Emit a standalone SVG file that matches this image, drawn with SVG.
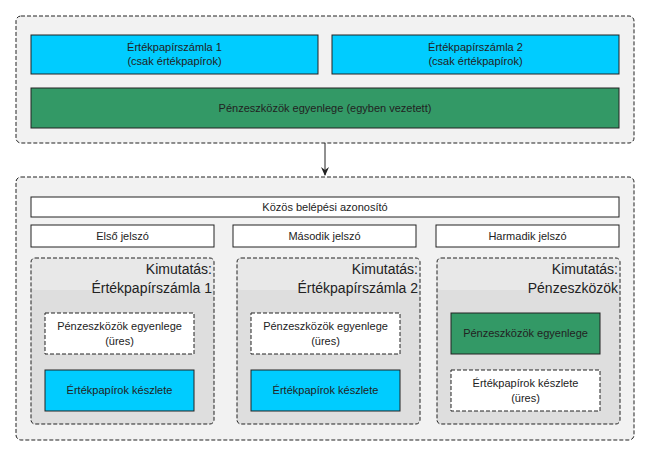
<svg xmlns="http://www.w3.org/2000/svg" width="650" height="457" viewBox="0 0 650 457">
<style>
text{font-family:"Liberation Sans",Arial,sans-serif;font-size:11px;fill:#222;text-anchor:middle}
.c{fill:#f2f2f2;stroke:#222;stroke-dasharray:4 2}
.b{fill:#00ccff;stroke:#222}
.g{fill:#339966;stroke:#222}
.w{fill:#fff;stroke:#222}
.wd{fill:#fff;stroke:#222;stroke-dasharray:4 2}
.p{fill:#dedede;stroke:none}
.ph{fill:#e8e8e8;stroke:none}
.po{fill:none;stroke:#222;stroke-dasharray:4 2}
.t{font-size:14px;text-anchor:end}
</style>
<defs><marker id="a" markerWidth="10" markerHeight="10" refX="8" refY="5" orient="auto" markerUnits="userSpaceOnUse"><path d="M0,1 L9,5 L0,9 L3,5 Z" fill="#222"/></marker></defs>
<g id="top"><rect class="c" x="16" y="16" width="618" height="127" rx="5"/></g>
<g id="acc1"><rect class="b" x="31" y="35" width="287" height="39"/><text x="174.5" y="51">Értékpapírszámla 1</text><text x="174.5" y="65">(csak értékpapírok)</text></g>
<g id="acc2"><rect class="b" x="332" y="35" width="287" height="39"/><text x="475.5" y="51">Értékpapírszámla 2</text><text x="475.5" y="65">(csak értékpapírok)</text></g>
<g id="cash"><rect class="g" x="31" y="88" width="588" height="40"/><text x="325" y="112">Pénzeszközök egyenlege (egyben vezetett)</text></g>
<g id="connectors"><line x1="325" y1="143" x2="325" y2="175" stroke="#222" marker-end="url(#a)"/></g>
<g id="bottom"><rect class="c" x="16" y="177" width="618" height="263" rx="5"/></g>
<g id="login"><rect class="w" x="31" y="197" width="588" height="20"/><text x="325" y="211">Közös belépési azonosító</text></g>
<g id="pw1"><rect class="w" x="31" y="225" width="183" height="22"/><text x="122.5" y="240">Első jelszó</text></g>
<g id="pw2"><rect class="w" x="233" y="225" width="183" height="22"/><text x="324.5" y="240">Második jelszó</text></g>
<g id="pw3"><rect class="w" x="436" y="225" width="183" height="22"/><text x="527.5" y="240">Harmadik jelszó</text></g>
<g id="panel1"><rect class="p" x="31" y="258" width="183" height="166" rx="4"/><rect class="ph" x="31" y="258" width="183" height="32" rx="4"/><rect class="po" x="31" y="258" width="183" height="166" rx="4"/><text class="t" x="212" y="274">Kimutatás:</text><text class="t" x="212" y="293">Értékpapírszámla 1</text></g>
<g id="p1a"><rect class="wd" x="45" y="313" width="149" height="41"/><text x="119.5" y="330">Pénzeszközök egyenlege</text><text x="119.5" y="345">(üres)</text></g>
<g id="p1b"><rect class="b" x="45" y="370" width="149" height="41"/><text x="119.5" y="394">Értékpapírok készlete</text></g>
<g id="panel2"><rect class="p" x="237" y="258" width="183" height="166" rx="4"/><rect class="ph" x="237" y="258" width="183" height="32" rx="4"/><rect class="po" x="237" y="258" width="183" height="166" rx="4"/><text class="t" x="418" y="274">Kimutatás:</text><text class="t" x="418" y="293">Értékpapírszámla 2</text></g>
<g id="p2a"><rect class="wd" x="251" y="313" width="149" height="41"/><text x="325.5" y="330">Pénzeszközök egyenlege</text><text x="325.5" y="345">(üres)</text></g>
<g id="p2b"><rect class="b" x="251" y="370" width="149" height="41"/><text x="325.5" y="394">Értékpapírok készlete</text></g>
<g id="panel3"><rect class="p" x="437" y="258" width="183" height="166" rx="4"/><rect class="ph" x="437" y="258" width="183" height="32" rx="4"/><rect class="po" x="437" y="258" width="183" height="166" rx="4"/><text class="t" x="618" y="274">Kimutatás:</text><text class="t" x="618" y="293">Pénzeszközök</text></g>
<g id="p3a"><rect class="g" x="451" y="313" width="149" height="41"/><text x="525.5" y="337">Pénzeszközök egyenlege</text></g>
<g id="p3b"><rect class="wd" x="451" y="370" width="149" height="41"/><text x="525.5" y="387">Értékpapírok készlete</text><text x="525.5" y="402">(üres)</text></g>
</svg>
